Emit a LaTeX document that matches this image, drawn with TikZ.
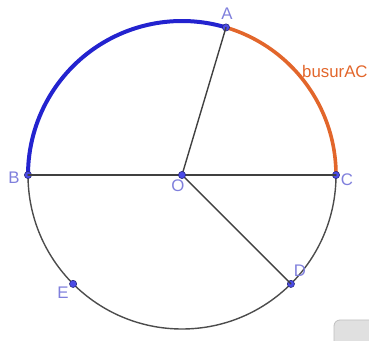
\documentclass[tikz,border=0pt]{standalone}
\usepackage{fontspec}
\setsansfont{Liberation Sans}
\usepackage{tikz}
\usetikzlibrary{calc}

\definecolor{ptblue}{HTML}{4B4BE6}
\definecolor{lblblue}{HTML}{7F7FDC}
\definecolor{arcblue}{HTML}{2323CF}
\definecolor{arcorange}{HTML}{E2662B}

\begin{document}
\begin{tikzpicture}[x=0.5pt, y=0.5pt, font=\sffamily\fontsize{8.4}{10}\selectfont, line cap=round, line join=round,
  pt/.style={circle, fill=ptblue, draw=ptblue!55!black, line width=.3pt, inner sep=0pt, minimum size=3.6pt},
  lbl/.style={text=lblblue, inner sep=1pt},
  seg/.style={black!75, line width=.7pt}]
  \useasboundingbox (0,0) rectangle (369,341);
  \clip (0,0) rectangle (369,341);

  % Circle and its centre.
  \coordinate (o) at (182,166);
  \draw[black!70, line width=.7pt] (o) circle (77pt);

  % Arcs from B to A and from A to C.
  \draw[arcblue, line width=2pt] ($(o)+(180:77pt)$) arc[start angle=180, end angle=73.4, radius=77pt];
  \draw[arcorange, line width=1.8pt] ($(o)+(73.4:77pt)$) arc[start angle=73.4, end angle=0, radius=77pt];
  \node[text=arcorange, anchor=east, inner sep=0pt] (busur) at (368,269) {busurAC};

  % Points on the circle.
  \node[pt] (A) at ($(o)+(73.4:77pt)$) {};
  \node[pt] (B) at ($(o)+(180:77pt)$) {};
  \node[pt] (C) at ($(o)+(0:77pt)$) {};
  \node[pt] (D) at ($(o)+(-45:77pt)$) {};
  \node[pt] (E) at ($(o)+(225:77pt)$) {};

  % Radii and diameter.
  \draw[seg] (B.center) -- (C.center);
  \draw[seg] (o) -- (A.center);
  \draw[seg] (o) -- (D.center);
  \node[pt] (O) at (o) {};

  % Labels.
  \node[lbl] at (227,327) {A};
  \node[lbl] at (14,163) {B};
  \node[lbl] at (347,161) {C};
  \node[lbl] at (178,155) {O};
  \node[lbl] at (300,70) {D};
  \node[lbl] at (63,48) {E};

  % Button at the corner.
  \draw[black!25, fill=black!12, rounded corners=3pt] (334,-10) rectangle (390,21);
\end{tikzpicture}
\end{document}
